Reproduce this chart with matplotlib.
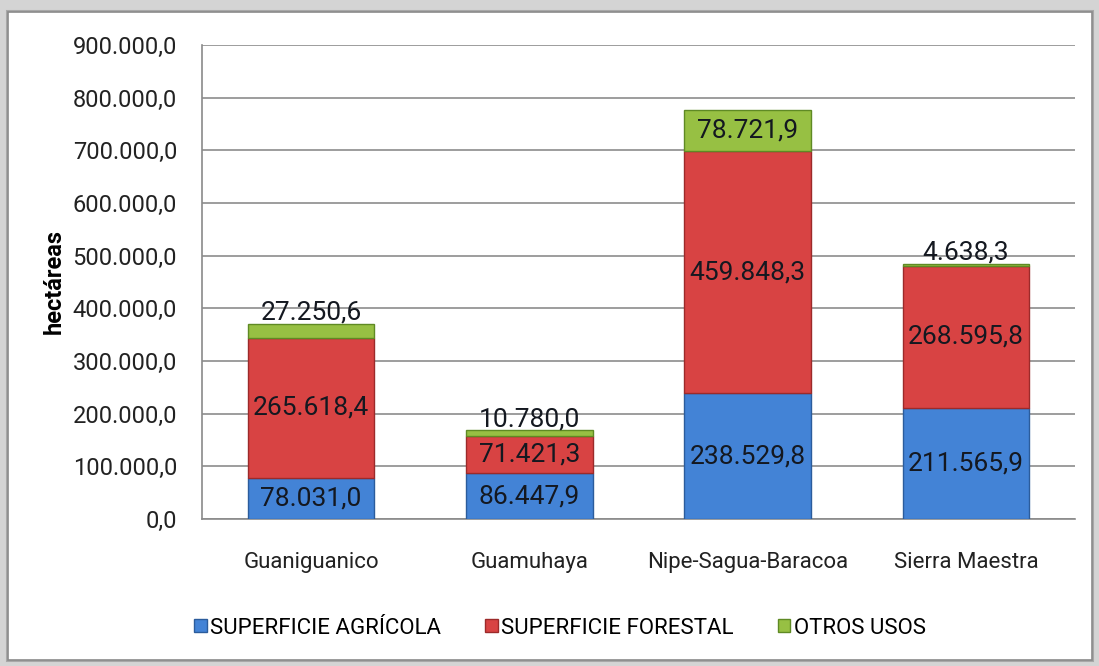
import numpy as np
import matplotlib
matplotlib.use("Agg")
import matplotlib.pyplot as plt
import matplotlib.patches as mpatches

# data
regions = ["Guaniguanico", "Guamuhaya", "Nipe-Sagua-Baracoa", "Sierra Maestra"]
agricola = [78031.0, 86447.9, 238529.8, 211565.9]
forestal = [265618.4, 71421.3, 459848.3, 268595.8]
otros = [27250.6, 10780.0, 78721.9, 4638.3]
series_names = ["SUPERFICIE AGRÍCOLA", "SUPERFICIE FORESTAL", "OTROS USOS"]
y_ticks = [0, 100000, 200000, 300000, 400000, 500000, 600000, 700000, 800000, 900000]

colors = ["#4383d6", "#d84343", "#97c043"]
edges = ["#2b5c9c", "#9c2a2a", "#5f8a24"]
FONT = ["Roboto", "DejaVu Sans"]


def fmt(v):
    s = f"{v:,.1f}"
    return s.replace(",", "X").replace(".", ",").replace("X", ".")


fig = plt.figure(figsize=(10.99, 6.66), dpi=100)
fig.patch.set_facecolor("#d4d4d4")

# white panel with shadow border
W, H = 1099, 666
for i, c in enumerate(["#bdbdbd", "#a8a8a8"]):
    fig.patches.append(mpatches.Rectangle(((8 - i) / W, (6 - i) / H), (1084 + 2 * i) / W, (648 + 2 * i) / H,
                                          transform=fig.transFigure, facecolor="none",
                                          edgecolor=c, linewidth=1.5, zorder=-2))
fig.patches.append(mpatches.Rectangle((8 / W, 6 / H), 1084 / W, 648 / H, transform=fig.transFigure,
                                      facecolor="white", edgecolor="#8a8a8a", linewidth=1.2, zorder=-1))

ax = fig.add_axes([202 / W, 1 - 519 / H, (1075 - 202) / W, (519 - 45) / H])
ax.set_facecolor("none")

x = np.arange(len(regions))
width = 0.58
bottoms = np.zeros(len(regions))
for vals, col, ec, name in zip([agricola, forestal, otros], colors, edges, series_names):
    ax.bar(x, vals, width, bottom=bottoms, color=col, edgecolor=ec, linewidth=1.0,
           label=name, zorder=3)
    bottoms += np.array(vals)

# data labels
for i in range(len(regions)):
    a, f, o = agricola[i], forestal[i], otros[i]
    ax.text(x[i], a / 2, fmt(a), ha="center", va="center", fontsize=19,
            family=FONT, color="#141820", zorder=5)
    ax.text(x[i], a + f / 2, fmt(f), ha="center", va="center", fontsize=19,
            family=FONT, color="#141820", zorder=5)
    top = a + f + o
    if o > 50000:
        ax.text(x[i], a + f + o / 2, fmt(o), ha="center", va="center", fontsize=19,
                family=FONT, color="#141820", zorder=5)
    else:
        ax.text(x[i], top - 2000, fmt(o), ha="center", va="bottom", fontsize=19,
                family=FONT, color="#141820", zorder=5)

ax.set_ylim(0, 900000)
ax.set_xlim(-0.5, len(regions) - 0.5)
ax.set_yticks(y_ticks)
ax.set_yticklabels([fmt(v) for v in y_ticks], family=FONT, fontsize=17, color="#222222")
ax.set_xticks(x)
ax.set_xticklabels(regions, family=FONT, fontsize=16, color="#222222")
ax.tick_params(axis="x", length=0, pad=24)
ax.tick_params(axis="y", length=0, pad=18)
ax.yaxis.grid(True, color="#8c8c8c", linewidth=1.2, zorder=0)
ax.set_axisbelow(True)
for s in ["top", "right"]:
    ax.spines[s].set_visible(False)
for s in ["left", "bottom"]:
    ax.spines[s].set_color("#8a8a8a")
    ax.spines[s].set_linewidth(1.2)

ax.set_ylabel("hectáreas", fontsize=17, fontweight="bold", family=FONT)
ax.yaxis.set_label_coords(66 / W, 1 - 281 / H, transform=fig.transFigure)

leg = ax.legend(loc="center", ncol=3, frameon=False, prop={"family": FONT, "size": 16},
                handlelength=0.55, handleheight=0.55, handletextpad=0.15, columnspacing=2.0)
leg.set_bbox_to_anchor((560 / W, 1 - 628 / H), transform=fig.transFigure)

fig.savefig("out.png", dpi=100, facecolor=fig.get_facecolor())
